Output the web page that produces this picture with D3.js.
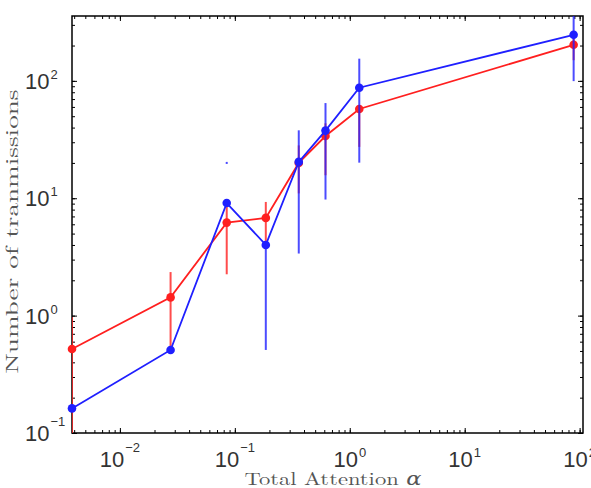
<!DOCTYPE html>
<html>
<head>
<meta charset="utf-8">
<script src="https://cdn.jsdelivr.net/npm/d3@7"></script>
<style>
  body { margin: 0; background: #fff; }
</style>
</head>
<body>
<div id="chart"></div>
<script>
// attention values (x)
var alphas = [0.00383, 0.0276, 0.085, 0.186, 0.36, 0.615, 1.21, 88.7];

// red series: value, lower and upper error
var redVals = [0.52, 1.43, 6.2, 6.8, 20, 33.9, 57.6, 203];
var redLow  = [0.05, 0.51, 2.25, 4.3, 11.0, 15.7, 27.4, 150];
var redHigh = [0.97, 2.35, 9.5, 9.3, 28.2, 43.5, 60, 260];

// blue series
var blueVals = [0.162, 0.51, 9.1, 4.0, 20.4, 37.7, 87.5, 247];
var blueLow  = [0.162, 0.51, 19.6, 0.51, 3.38, 9.75, 20.1, 99.5];
var blueHigh = [0.162, 0.51, 20.4, 4.0, 37.9, 64.7, 154.6, 600];

var xDecades = [-2, -1, 0, 1, 2];
var yDecades = [-1, 0, 1, 2];

var margin = {top: 16, right: 8, bottom: 55, left: 72},
    width = 591 - margin.left - margin.right,
    height = 488 - margin.top - margin.bottom;

var svg = d3.select("#chart").append("svg")
    .attr("width", 591)
    .attr("height", 488)
    .append("g")
    .attr("transform", "translate(" + margin.left + "," + margin.top + ")");

var x = d3.scaleLog().domain([0.00383, 107]).range([0, width]);
var y = d3.scaleLog().domain([0.1, 357]).range([height, 0]);

// minor tick positions
function minors(scale, decades) {
    var out = [];
    var lo = decades[0] - 1, hi = decades[decades.length - 1] + 1;
    for (var e = lo; e <= hi; e++) {
        for (var m = 1; m < 10; m++) {
            var v = m * Math.pow(10, e);
            var d = scale.domain();
            if (v >= d[0] && v <= d[1]) out.push(v);
        }
    }
    return out;
}
var xMajor = xDecades.map(function(e) { return Math.pow(10, e); })
    .filter(function(v) { return v <= x.domain()[1]; });
var yMajor = yDecades.map(function(e) { return Math.pow(10, e); });

function addAxis(gen, tr, vals, size) {
    svg.append("g")
        .attr("transform", tr)
        .call(gen.tickValues(vals).tickSizeInner(size).tickSizeOuter(0).tickFormat(""))
        .call(function(g) { g.select(".domain").remove(); })
        .selectAll("line").attr("stroke", "#000").attr("stroke-width", 1);
}
// ticks point inward on all four sides
addAxis(d3.axisBottom(x), "translate(0," + height + ")", minors(x, xDecades), -3);
addAxis(d3.axisBottom(x), "translate(0," + height + ")", xMajor, -5);
addAxis(d3.axisTop(x), "translate(0,0)", minors(x, xDecades), -3);
addAxis(d3.axisTop(x), "translate(0,0)", xMajor, -5);
addAxis(d3.axisLeft(y), "translate(0,0)", minors(y, yDecades), -3);
addAxis(d3.axisLeft(y), "translate(0,0)", yMajor, -5);
addAxis(d3.axisRight(y), "translate(" + width + ",0)", minors(y, yDecades), -3);
addAxis(d3.axisRight(y), "translate(" + width + ",0)", yMajor, -5);

// frame
svg.append("rect")
    .attr("width", width).attr("height", height)
    .attr("fill", "none").attr("stroke", "#000").attr("stroke-width", 1.5);

// tick labels with superscript exponents
var labFont = "'Liberation Sans', Arial, sans-serif";
function powLabel(t, e) {
    t.attr("font-family", labFont).attr("font-size", 22).attr("fill", "#333");
    t.append("tspan").text("10");
    t.append("tspan")
        .attr("dy", e < 0 ? -15 : -10)
        .attr("dx", 1)
        .attr("font-size", 13)
        .text(e < 0 ? "\u2212" + (-e) : e);
}
xDecades.forEach(function(e) {
    var t = svg.append("text")
        .attr("x", x(Math.pow(10, e)))
        .attr("y", height + 34)
        .attr("text-anchor", "middle");
    powLabel(t, e);
});
yDecades.forEach(function(e) {
    var t = svg.append("text")
        .attr("x", -47)
        .attr("y", y(Math.pow(10, e)) + 8)
        .attr("text-anchor", "start");
    powLabel(t, e);
});

// axis titles
var serif = "'Latin Modern Roman', 'DejaVu Serif', 'Liberation Serif', serif";
svg.append("text")
    .attr("x", 261)
    .attr("y", height + 52)
    .attr("text-anchor", "middle")
    .attr("font-family", serif)
    .attr("font-size", 18)
    .attr("fill", "#555")
    .attr("textLength", 177)
    .attr("lengthAdjust", "spacingAndGlyphs")
    .html("Total Attention <tspan font-style='italic'>\u03b1</tspan>");

svg.append("text")
    .attr("transform", "translate(-54," + (height / 2 + 7) + ") rotate(-90)")
    .attr("text-anchor", "middle")
    .attr("font-family", serif)
    .attr("font-size", 17)
    .attr("fill", "#555")
    .attr("textLength", 284)
    .attr("lengthAdjust", "spacingAndGlyphs")
    .text("Number of tranmissions");

svg.append("clipPath").attr("id", "clip")
    .append("rect").attr("width", width).attr("height", height);

function drawSeries(vals, low, high, color) {
    var pts = alphas.map(function(a, i) {
        return {a: a, v: vals[i], lo: low[i], hi: high[i]};
    });
    svg.append("g").attr("clip-path", "url(#clip)")
        .selectAll("line")
        .data(pts.filter(function(d) { return d.hi > d.lo; }))
        .enter().append("line")
        .attr("x1", function(d) { return x(d.a); })
        .attr("x2", function(d) { return x(d.a); })
        .attr("y1", function(d) { return y(d.lo); })
        .attr("y2", function(d) { return y(d.hi); })
        .attr("stroke", color)
        .attr("stroke-opacity", 0.8)
        .attr("stroke-width", 2);

    var line = d3.line()
        .x(function(d) { return x(d.a); })
        .y(function(d) { return y(d.v); });
    svg.append("path")
        .datum(pts)
        .attr("d", line)
        .attr("fill", "none")
        .attr("stroke", color)
        .attr("stroke-width", 1.8);

    svg.selectAll(null)
        .data(pts)
        .enter().append("circle")
        .attr("cx", function(d) { return x(d.a); })
        .attr("cy", function(d) { return y(d.v); })
        .attr("r", 4.3)
        .attr("fill", color);
}

drawSeries(redVals, redLow, redHigh, "#ff1f1f");
drawSeries(blueVals, blueLow, blueHigh, "#1f1fff");
</script>
</body>
</html>
